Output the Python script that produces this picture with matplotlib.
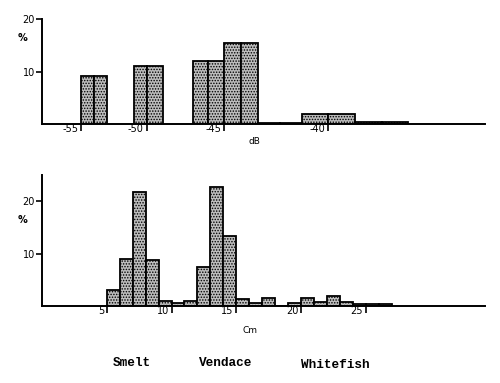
import numpy as np
import matplotlib
matplotlib.use("Agg")
import matplotlib.pyplot as plt
import matplotlib.transforms as mtransforms

# target strength histogram (1 dB bins, left edges)
ts_bins = [-55, -54, -51, -50, -47, -46, -45, -44, -43, -42, -41, -40, -39, -38]
ts_pct = [9.1, 9.1, 11.0, 11.0, 12.0, 12.0, 15.4, 15.4, 0.3, 0.3, 2.0, 2.0, 0.45, 0.45]
ts_ticks = [-55, -50, -45, -40]

# length histogram (1 cm bins, left edges)
len_bins = [5, 6, 7, 8, 9, 10, 11, 12, 13, 14, 15, 16, 17, 18, 19, 20, 21, 22, 23, 24, 25, 26]
len_pct = [3.0, 8.9, 21.8, 8.8, 1.0, 0.5, 1.0, 7.5, 22.8, 13.4, 1.3, 0.5, 1.5, 0.0,
           0.6, 1.5, 0.8, 2.0, 0.8, 0.4, 0.3, 0.3]
len_ticks = [5, 10, 15, 20, 25]

species = ["Smelt", "Vendace", "Whitefish"]

# the dB axis of the original is drawn against the length axis, not linearly
db_cal = [-62, -58, -55, -54, -53, -51, -50, -49, -47, -46, -45, -44, -43, -42,
          -41, -40, -39, -38, -37, -34, -28]
u_cal = [-4.0, 0.0, 3.0, 4.0, 5.0, 7.08, 8.08, 9.31, 11.62, 12.85, 14.08, 15.38,
         16.69, 18.38, 20.08, 22.08, 24.15, 26.23, 28.23, 34.2, 46.2]


def fwd(x):
    return np.interp(x, db_cal, u_cal)


def inv(u):
    return np.interp(u, u_cal, db_cal)


plt.rcParams['hatch.linewidth'] = 0.7
plt.rcParams['hatch.color'] = '#555555'

fig = plt.figure(figsize=(5, 3.83), dpi=100)
ax1 = fig.add_axes([0.084, 0.676, 0.886, 0.274])
ax2 = fig.add_axes([0.084, 0.201, 0.886, 0.342])

bar_kw = dict(align='edge', width=1, facecolor='#bdbdbd', edgecolor='black',
              linewidth=1.3, hatch='......')

ax1.set_xscale('function', functions=(fwd, inv))
ax1.bar(ts_bins, ts_pct, **bar_kw)
ax1.set_xlim(-58, -34)
ax1.set_ylim(0, 20)
ax1.set_xticks(ts_ticks)
ax1.set_xticklabels([str(t) for t in ts_ticks])
ax1.set_xlabel("dB", fontsize=6.5)
ax1.xaxis.set_label_coords(0.48, -0.12)

ax2.bar(len_bins, len_pct, **bar_kw)
ax2.set_xlim(0, 34.2)
ax2.set_ylim(0, 25)
ax2.set_xticks(len_ticks)
ax2.set_xticklabels([str(t) for t in len_ticks])
ax2.set_xlabel("Cm", fontsize=6.5)
ax2.xaxis.set_label_coords(0.47, -0.15)

shift = mtransforms.ScaledTranslation(-2 / 72, 0, fig.dpi_scale_trans)
for ax, ly in [(ax1, 0.77), (ax2, 0.62)]:
    for s in ['top', 'right']:
        ax.spines[s].set_visible(False)
    for s in ['left', 'bottom']:
        ax.spines[s].set_linewidth(1.4)
    ax.set_yticks([10, 20])
    ax.tick_params(axis='y', length=4, width=1.2, labelsize=7, pad=1)
    ax.tick_params(axis='x', length=5, width=1.2, labelsize=7, pad=-5)
    for lbl in ax.get_xticklabels():
        lbl.set_ha('right')
        lbl.set_transform(lbl.get_transform() + shift)
    ax.set_ylabel("%", rotation=0, fontsize=7, fontweight='bold')
    ax.yaxis.set_label_coords(-0.045, ly)

xs = [0.226, 0.398, 0.602]
ys = [0.052, 0.052, 0.047]
for name, x, y in zip(species, xs, ys):
    fig.text(x, y, name, ha='left', va='center', family='Liberation Mono',
             fontweight='bold', fontsize=9.2)

fig.savefig("out.png", dpi=100)
